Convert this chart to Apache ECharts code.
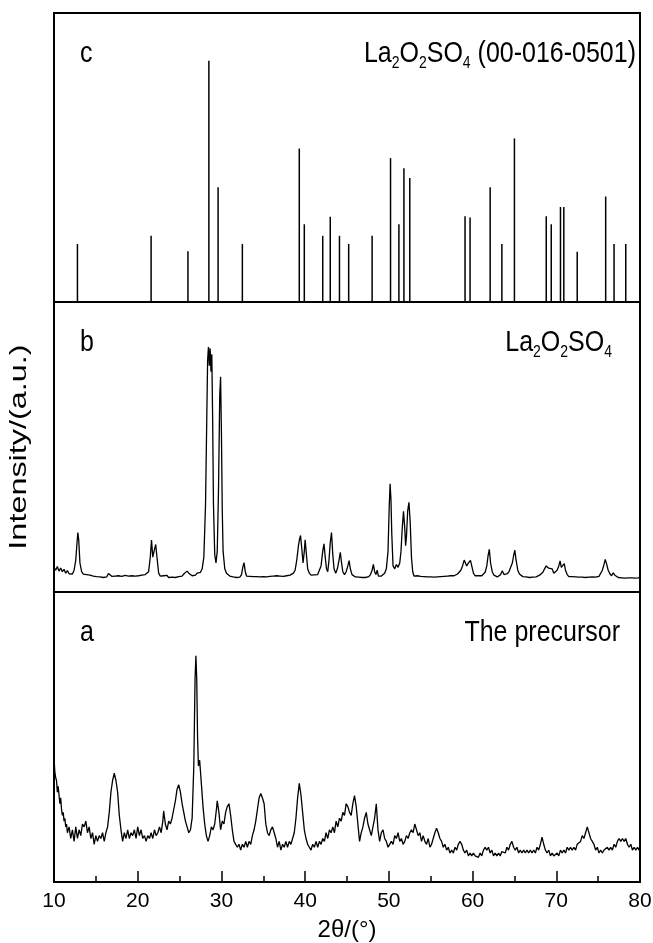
<!DOCTYPE html>
<html><head><meta charset="utf-8">
<script src="https://cdn.jsdelivr.net/npm/echarts@6.0.0/dist/echarts.min.js"></script>
<style>html,body{margin:0;padding:0;background:#fff}#chart{width:653px;height:943px}</style>
</head><body><div id="chart"></div>
<script>
const FONT = '"Liberation Sans", Arial, sans-serif';
const FONT_N = '"Liberation Sans Narrow", "Arial Narrow", "Liberation Sans", sans-serif';
const xTicks = [10, 20, 30, 40, 50, 60, 70, 80];
const xTitle = '2θ/(°)';
const yTitle = 'Intensity/(a.u.)';

// Panel c: reference pattern La2O2SO4 (00-016-0501), [2θ, relative height]
const refPeaks = [[12.8,20.1],[21.6,22.9],[26.0,17.6],[28.5,83.5],[29.6,39.7],[32.5,20.1],[39.3,53.1],[39.9,26.9],[42.1,22.9],[43.0,29.5],[44.1,22.9],[45.2,20.1],[48.0,22.9],[50.2,49.8],[51.2,26.9],[51.8,46.3],[52.5,42.9],[59.1,29.7],[59.7,29.2],[62.1,39.7],[63.5,20.1],[65.0,56.6],[68.8,29.7],[69.4,26.9],[70.5,32.9],[70.9,32.9],[72.5,17.4],[75.9,36.5],[76.9,20.1],[78.3,20.1]];

// Panel b: La2O2SO4 sample
const sampleB = [[10.0,8.5],[10.2,7.5],[10.4,8.8],[10.6,7.2],[10.8,8.3],[11.0,7.0],[11.2,7.8],[11.4,6.5],[11.6,7.4],[11.8,6.3],[12.0,6.8],[12.2,6.2],[12.4,7.5],[12.6,11],[12.75,17],[12.85,20.5],[12.95,18],[13.1,10],[13.3,7],[13.5,6.2],[13.7,6.8],[13.9,6.0],[14.1,6.5],[14.3,5.8],[14.5,6.3],[14.7,5.5],[14.9,6.0],[15.1,5.3],[15.3,5.8],[15.5,5.2],[15.7,5.6],[15.9,5.0],[16.1,5.5],[16.3,5.2],[16.5,6.4],[16.7,5.8],[16.9,5.4],[17.1,5.0],[17.3,5.5],[17.5,5.1],[17.7,5.6],[17.9,5.0],[18.1,5.4],[18.3,5.1],[18.5,5.7],[18.7,5.2],[18.9,5.5],[19.1,5.0],[19.3,5.6],[19.5,5.2],[19.7,5.5],[19.9,5.1],[20.1,5.6],[20.3,5.3],[20.5,5.8],[20.7,5.5],[20.9,6.0],[21.1,5.8],[21.3,7.0],[21.5,12],[21.65,17.9],[21.8,12],[21.95,14],[22.15,16.4],[22.3,12],[22.5,6.5],[22.7,5.5],[22.9,5.0],[23.1,5.6],[23.3,5.2],[23.5,5.7],[23.7,5.0],[23.9,5.4],[24.1,5.1],[24.3,5.5],[24.5,5.0],[24.7,5.6],[24.9,5.3],[25.1,5.8],[25.3,5.5],[25.5,6.2],[25.7,6.8],[25.9,7.2],[26.1,6.5],[26.3,6.0],[26.5,5.6],[26.7,6.2],[26.9,5.8],[27.1,6.5],[27.3,6.0],[27.5,6.8],[27.7,8.0],[27.9,12],[28.1,30],[28.25,60],[28.35,80],[28.45,84.5],[28.55,78],[28.65,84],[28.75,76],[28.85,82],[28.95,60],[29.05,30],[29.2,13],[29.35,10],[29.5,14],[29.65,35],[29.8,68],[29.9,74.2],[30.0,55],[30.1,28],[30.2,14],[30.4,8],[30.6,6.5],[30.8,6.0],[31.0,5.5],[31.2,5.8],[31.4,5.2],[31.6,5.6],[31.8,5.0],[32.0,5.4],[32.2,5.1],[32.4,6.0],[32.55,8.5],[32.7,10.1],[32.85,7],[33.0,5.5],[33.2,5.0],[33.4,5.4],[33.6,4.8],[33.8,5.3],[34.0,4.9],[34.2,5.3],[34.4,4.8],[34.6,5.2],[34.8,4.9],[35.0,5.3],[35.2,4.8],[35.4,5.2],[35.6,4.9],[35.8,5.4],[36.0,5.0],[36.2,5.5],[36.4,5.1],[36.6,5.6],[36.8,5.2],[37.0,5.5],[37.2,5.0],[37.4,5.4],[37.6,5.1],[37.8,5.6],[38.0,5.3],[38.2,5.8],[38.4,6.0],[38.6,6.5],[38.8,7.5],[39.0,11],[39.2,16],[39.35,18.5],[39.45,19.5],[39.6,15],[39.75,10],[39.9,14],[40.0,18],[40.15,13],[40.3,8],[40.5,6.5],[40.7,5.8],[40.9,5.5],[41.1,5.9],[41.3,5.4],[41.5,6.0],[41.7,6.5],[41.9,9],[42.1,14],[42.25,16.6],[42.4,12],[42.55,8],[42.7,7],[42.85,11],[43.0,17],[43.15,20.5],[43.3,13],[43.45,8],[43.65,6.5],[43.85,8],[44.05,11],[44.2,13.7],[44.35,10],[44.5,7],[44.7,6.0],[44.9,7],[45.1,9],[45.25,10.8],[45.4,8],[45.6,6],[45.8,5.5],[46.0,5.2],[46.2,5.6],[46.4,5.1],[46.6,5.5],[46.8,5.0],[47.0,5.4],[47.2,5.0],[47.4,5.5],[47.6,5.3],[47.8,6.0],[48.0,7.5],[48.15,9.5],[48.3,7.0],[48.45,6.0],[48.6,7.5],[48.75,5.5],[48.9,6.0],[49.1,5.5],[49.3,6.0],[49.5,6.5],[49.7,8],[49.9,14],[50.05,30],[50.15,37.3],[50.25,32],[50.35,20],[50.5,9],[50.7,8],[50.9,9.5],[51.1,8.5],[51.3,10],[51.45,14],[51.6,22],[51.75,27.8],[51.9,22],[52.0,16],[52.1,19],[52.25,28],[52.4,30.9],[52.55,24],[52.7,12],[52.85,7],[53.0,5.5],[53.2,5.2],[53.4,5.6],[53.6,5.1],[53.8,5.4],[54.0,5.0],[54.2,5.3],[54.4,4.9],[54.6,5.2],[54.8,4.8],[55.0,5.2],[55.2,4.8],[55.4,5.1],[55.6,4.8],[55.8,5.2],[56.0,4.9],[56.2,5.3],[56.4,5.0],[56.6,5.4],[56.8,5.1],[57.0,5.5],[57.2,5.2],[57.4,5.6],[57.6,5.4],[57.8,5.6],[58.0,5.8],[58.2,6.2],[58.4,6.5],[58.6,7.5],[58.8,9],[59.0,11],[59.15,11.5],[59.3,9],[59.5,10],[59.75,10.9],[59.9,9],[60.1,6.5],[60.3,5.6],[60.5,5.3],[60.7,5.6],[60.9,5.3],[61.1,5.6],[61.3,6.0],[61.5,6.8],[61.7,9],[61.85,12.5],[62.0,14.7],[62.15,10],[62.35,7],[62.55,5.8],[62.75,5.5],[62.95,5.2],[63.15,5.6],[63.35,6.0],[63.55,7.3],[63.75,6.0],[63.95,5.7],[64.15,6.3],[64.35,7.0],[64.55,8.5],[64.75,10],[64.9,12.5],[65.05,14.4],[65.2,11],[65.4,7.5],[65.6,6.2],[65.8,5.6],[66.0,5.3],[66.2,5.6],[66.4,5.2],[66.6,5.4],[66.8,5.0],[67.0,5.3],[67.2,5.1],[67.4,5.5],[67.6,5.2],[67.8,5.6],[68.0,5.8],[68.2,6.0],[68.4,6.8],[68.6,8.0],[68.8,9.0],[68.95,9.5],[69.1,8.2],[69.3,8.8],[69.5,8.0],[69.7,6.5],[69.9,6.5],[70.1,7.5],[70.3,9],[70.45,10.7],[70.6,8.5],[70.75,9.0],[70.95,9.8],[71.1,7.5],[71.3,6.0],[71.5,5.3],[71.7,5.0],[71.9,5.3],[72.1,4.9],[72.3,5.2],[72.5,4.8],[72.7,5.1],[72.9,4.8],[73.1,5.1],[73.3,4.8],[73.5,5.0],[73.7,4.8],[73.9,5.1],[74.1,4.9],[74.3,5.2],[74.5,5.0],[74.7,5.1],[74.9,5.0],[75.1,5.4],[75.3,6.0],[75.5,7.5],[75.7,9.5],[75.85,11.2],[76.0,9.8],[76.2,7.5],[76.4,6.3],[76.6,5.6],[76.8,6.6],[77.0,5.8],[77.2,5.4],[77.4,5.0],[77.6,5.3],[77.8,4.9],[78.0,5.2],[78.2,4.8],[78.4,5.1],[78.6,4.9],[78.8,5.2],[79.0,4.9],[79.2,5.1],[79.4,4.8],[79.6,5.2],[79.8,4.9],[80.0,5.1]];

// Panel a: the precursor
const precursorA = [[10.0,43],[10.1,38],[10.2,36],[10.3,35],[10.4,31],[10.5,33],[10.6,30],[10.7,27],[10.8,29],[10.9,25],[11.0,23],[11.1,24],[11.2,21],[11.3,22],[11.4,19],[11.5,20],[11.6,17],[11.8,19],[12.0,15],[12.2,18],[12.4,14],[12.6,19],[12.8,15],[13.0,18],[13.2,16],[13.4,20],[13.6,19],[13.8,21],[14.0,17],[14.2,19],[14.4,15],[14.6,17],[14.8,13],[15.0,16],[15.2,14],[15.4,16],[15.6,15],[15.8,17],[16.0,14],[16.2,17],[16.4,19],[16.6,24],[16.8,31],[17.0,35],[17.2,37.5],[17.4,35],[17.6,31],[17.8,23],[18.0,18],[18.2,14],[18.4,17],[18.6,15],[18.8,18],[19.0,15],[19.2,17],[19.4,16],[19.6,18],[19.8,15],[20.0,19],[20.2,16],[20.4,18],[20.6,15],[20.8,16],[21.0,14],[21.2,16],[21.4,15],[21.6,17],[21.8,15],[22.0,18],[22.2,16],[22.4,17],[22.6,19],[22.8,17],[23.0,21],[23.1,24.5],[23.3,20],[23.5,18],[23.7,21],[23.9,20],[24.1,22],[24.3,25],[24.5,28],[24.7,32],[24.9,33.5],[25.1,31],[25.3,27],[25.5,24],[25.7,21],[25.9,19],[26.1,17],[26.3,18],[26.5,22],[26.7,40],[26.85,70],[26.95,78],[27.05,70],[27.15,50],[27.25,40],[27.4,42],[27.5,38],[27.6,34],[27.8,26],[28.0,20],[28.2,16],[28.4,14],[28.6,16],[28.8,19],[29.0,18],[29.2,20],[29.4,25],[29.5,28],[29.7,24],[29.9,18],[30.1,21],[30.3,20],[30.5,24],[30.7,26],[30.9,27],[31.1,23],[31.3,18],[31.5,14],[31.7,13],[31.9,12],[32.1,13],[32.3,11],[32.5,13],[32.7,12],[32.9,14],[33.1,12],[33.3,14],[33.5,13],[33.7,16],[33.9,18],[34.1,21],[34.3,25],[34.5,29],[34.7,30.5],[34.9,29],[35.1,27],[35.3,20],[35.5,17],[35.7,16],[35.9,18],[36.1,19],[36.3,17],[36.5,15],[36.7,12],[36.9,14],[37.1,11],[37.3,13],[37.5,12],[37.7,14],[37.9,12],[38.1,14],[38.3,13],[38.5,15],[38.7,17],[38.9,22],[39.1,29],[39.3,34],[39.5,30],[39.7,24],[39.9,18],[40.1,15],[40.3,13],[40.5,12],[40.7,11],[40.9,13],[41.1,12],[41.3,14],[41.5,12],[41.7,14],[41.9,13],[42.1,15],[42.3,14],[42.5,17],[42.7,15],[42.9,18],[43.1,17],[43.3,19],[43.5,17],[43.7,21],[43.9,19],[44.1,22],[44.3,21],[44.5,24],[44.7,23],[44.9,27],[45.1,26],[45.3,24],[45.5,23],[45.7,27],[45.9,29.8],[46.1,26],[46.3,20],[46.5,14],[46.7,17],[46.9,19],[47.1,22],[47.3,24],[47.5,20],[47.7,18],[47.9,16],[48.1,19],[48.3,22],[48.5,27],[48.7,18],[48.9,14],[49.1,17],[49.3,18],[49.5,15],[49.7,14],[49.9,12],[50.1,13],[50.3,14],[50.5,13],[50.7,16],[50.9,15],[51.1,17],[51.3,14],[51.5,15],[51.7,13],[51.9,14],[52.1,16],[52.3,15],[52.5,17],[52.7,18],[52.9,17],[53.1,20],[53.3,18],[53.5,16],[53.7,17],[53.9,14],[54.1,16],[54.3,14],[54.5,13],[54.7,15],[54.9,12],[55.1,13],[55.3,15],[55.5,17],[55.7,18.5],[55.9,17],[56.1,15],[56.3,14],[56.5,12],[56.7,13],[56.9,11],[57.1,12],[57.3,10],[57.5,11],[57.7,10],[57.9,12],[58.1,11],[58.3,13],[58.5,14],[58.7,13],[58.9,11],[59.1,10],[59.3,11],[59.5,9],[59.7,10],[59.9,9],[60.1,10],[60.3,9],[60.5,9.5],[60.7,8.5],[60.9,10],[61.1,9],[61.3,11],[61.5,12],[61.7,11],[61.9,12],[62.1,10],[62.3,11],[62.5,9],[62.7,10],[62.9,9],[63.1,10],[63.3,9],[63.5,10.5],[63.7,11],[63.9,10],[64.1,12],[64.3,11],[64.5,13],[64.7,14],[64.9,12],[65.1,11],[65.3,12],[65.5,10],[65.7,11],[65.9,10],[66.1,11],[66.3,10],[66.5,11],[66.7,10],[66.9,11],[67.1,10],[67.3,11],[67.5,10],[67.7,12],[67.9,11],[68.1,13],[68.3,15.5],[68.5,13],[68.7,11],[68.9,10],[69.1,11],[69.3,9],[69.5,10],[69.7,9],[69.9,8.5],[70.1,10],[70.3,9],[70.5,11],[70.7,10],[70.9,11],[71.1,10],[71.3,12],[71.5,11],[71.7,12],[71.9,11],[72.1,12],[72.3,11],[72.5,13],[72.7,13],[72.9,14],[73.1,16],[73.3,15],[73.5,17],[73.7,19],[73.9,17],[74.1,15],[74.3,14],[74.5,13],[74.7,11],[74.9,12],[75.1,10],[75.3,11],[75.5,10],[75.7,11],[75.9,11],[76.1,12],[76.3,11],[76.5,12],[76.7,11],[76.9,13],[77.1,12],[77.3,14],[77.5,15],[77.7,14],[77.9,15],[78.1,14],[78.3,15],[78.5,13],[78.7,12],[78.9,13],[79.1,11],[79.3,12],[79.5,11],[79.7,12],[79.9,11],[80.0,12]];

const panelLetters = ['c', 'b', 'a'];
const labelC = '{n|La}{s|2}{n|O}{s|2}{n|SO}{s|4}{n| (00-016-0501)}';
const labelB = '{n|La}{s|2}{n|O}{s|2}{n|SO}{s|4}';
const labelA = 'The precursor';

const chart = echarts.init(document.getElementById('chart'), null, {renderer: 'canvas'});
const gridTops = [13, 302, 592];
const gridHeights = [289, 290, 290];
const richSub = {
  n: {fontSize: 25, fontFamily: FONT, fill: '#000', lineHeight: 29},
  s: {fontSize: 14, fontFamily: FONT, fill: '#000', verticalAlign: 'bottom'}
};
const STRETCH = 1.2;
const option = {
  animation: false,
  backgroundColor: '#fff',
  textStyle: {fontFamily: FONT, color: '#000'},
  grid: gridTops.map((t, i) => ({left: 54, right: 13, top: t, height: gridHeights[i], containLabel: false, outerBoundsMode: 'none', show: true, borderColor: '#000', borderWidth: 2, backgroundColor: 'transparent'})),
  xAxis: [0, 1, 2].map(i => {
    const base = {gridIndex: i, type: 'value', min: xTicks[0], max: xTicks[xTicks.length - 1], interval: 10};
    if (i < 2) return Object.assign(base, {show: false});
    return Object.assign(base, {
      axisLine: {show: false},
      axisTick: {inside: true, length: 11, lineStyle: {color: '#000', width: 1.5}},
      minorTick: {show: true, splitNumber: 2, length: 6, lineStyle: {color: '#000', width: 1.5}},
      splitLine: {show: false},
      minorSplitLine: {show: false},
      axisLabel: {color: '#000', fontSize: 21, margin: 9, fontFamily: FONT_N},
      name: xTitle, nameLocation: 'middle', nameGap: 36,
      nameTextStyle: {color: '#000', fontSize: 24, fontFamily: FONT}
    });
  }),
  yAxis: [0, 1, 2].map(i => ({gridIndex: i, type: 'value', min: 0, max: 100, show: false})),
  series: [
    {type: 'bar', xAxisIndex: 0, yAxisIndex: 0, data: refPeaks, barWidth: 1.5, itemStyle: {color: '#000'}, silent: true},
    {type: 'line', xAxisIndex: 1, yAxisIndex: 1, data: sampleB, showSymbol: false, lineStyle: {color: '#000', width: 1.3}, silent: true},
    {type: 'line', xAxisIndex: 2, yAxisIndex: 2, data: precursorA, showSymbol: false, lineStyle: {color: '#000', width: 1.3}, silent: true}
  ],
  graphic: [
    {type: 'text', x: 19, y: 447, rotation: Math.PI / 2, scaleX: 1.35, style: {text: yTitle, fontSize: 24, fontFamily: FONT, fill: '#000', align: 'center', verticalAlign: 'middle'}},
    ...panelLetters.map((t, i) => ({type: 'text', x: 80, y: gridTops[i] + 41, scaleY: STRETCH, style: {text: t, fontSize: 25, fontFamily: FONT, fill: '#000', verticalAlign: 'middle'}})),
    {type: 'text', x: 636, y: gridTops[0] + 41, scaleY: STRETCH, style: {text: labelC, rich: richSub, fontSize: 25, fontFamily: FONT, fill: '#000', align: 'right', verticalAlign: 'middle'}},
    {type: 'text', x: 612, y: gridTops[1] + 41, scaleY: STRETCH, style: {text: labelB, rich: richSub, fontSize: 25, fontFamily: FONT, fill: '#000', align: 'right', verticalAlign: 'middle'}},
    {type: 'text', x: 620, y: gridTops[2] + 41, scaleY: STRETCH, style: {text: labelA, fontSize: 25, fontFamily: FONT, fill: '#000', align: 'right', verticalAlign: 'middle'}}
  ]
};
chart.setOption(option);
</script>
</body></html>
